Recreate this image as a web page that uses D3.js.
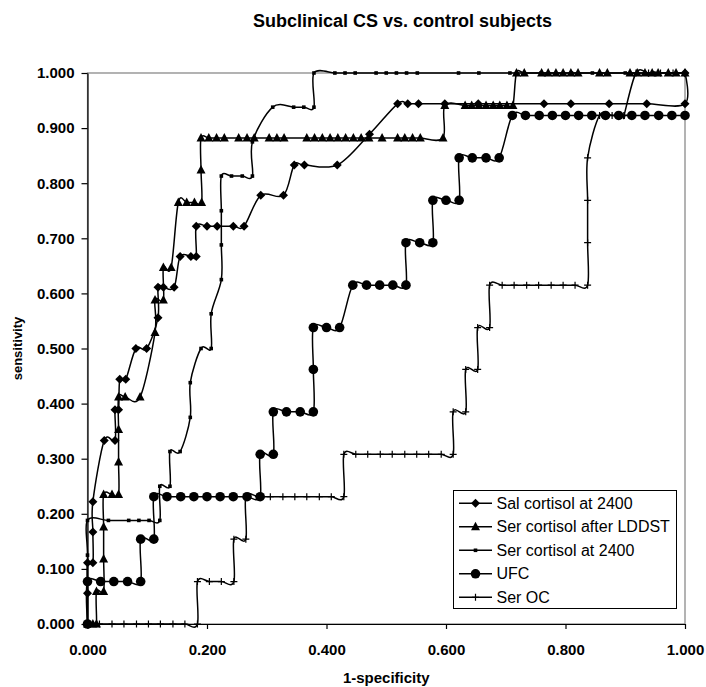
<!DOCTYPE html>
<html lang="en">
<head>
  <meta charset="utf-8">
  <title>Subclinical CS vs. control subjects</title>
  <script src="https://d3js.org/d3.v7.min.js" charset="utf-8"></script>
  <style>
    body { margin: 0; background: #fff; }
    text { font-family: Arial, "Liberation Sans", sans-serif; fill: #000; }
  </style>
</head>
<body>
<script type="text/javascript">

  // ---- data ----
  const seriesNames = ["Sal cortisol at 2400", "Ser cortisol after LDDST", "Ser cortisol at 2400", "UFC", "Ser OC"]
  const xTicks = [0, 0.2, 0.4, 0.6, 0.8, 1.0]
  const yTicks = [0, 0.1, 0.2, 0.3, 0.4, 0.5, 0.6, 0.7, 0.8, 0.9, 1.0]

  const salX = [0, 0, 0, 0.009, 0.009, 0.009, 0.028, 0.046, 0.046, 0.052, 0.054, 0.064, 0.081, 0.099, 0.118, 0.118, 0.127, 0.145, 0.155, 0.173, 0.182, 0.182, 0.200, 0.217, 0.244, 0.262, 0.290, 0.328, 0.346, 0.363, 0.418, 0.472, 0.519, 0.536, 0.554, 0.598, 0.654, 0.764, 0.809, 0.873, 0.936, 1.000, 1.000]
  const salY = [0, 0.056, 0.111, 0.111, 0.167, 0.222, 0.333, 0.333, 0.389, 0.389, 0.444, 0.444, 0.500, 0.500, 0.556, 0.611, 0.611, 0.611, 0.667, 0.667, 0.667, 0.722, 0.722, 0.722, 0.722, 0.722, 0.778, 0.778, 0.833, 0.833, 0.833, 0.889, 0.944, 0.944, 0.944, 0.944, 0.944, 0.944, 0.944, 0.944, 0.944, 0.944, 1.000]

  const lddstX = [0, 0.009, 0.015, 0.015, 0.027, 0.027, 0.027, 0.027, 0.041, 0.052, 0.052, 0.052, 0.052, 0.063, 0.088, 0.113, 0.113, 0.127, 0.127, 0.140, 0.152, 0.166, 0.179, 0.191,
    0.190, 0.190, 0.203, 0.216, 0.229, 0.253, 0.267, 0.279, 0.304, 0.317, 0.329, 0.367, 0.380, 0.393, 0.406, 0.419, 0.432, 0.445, 0.458, 0.471, 0.493, 0.519, 0.531, 0.544, 0.557, 0.595,
    0.598, 0.632, 0.643, 0.655, 0.667, 0.679, 0.690, 0.702, 0.712,
    0.718, 0.731, 0.760, 0.771, 0.784, 0.796, 0.809, 0.821, 0.857, 0.870, 0.908, 0.920, 0.933, 0.945, 0.955, 0.972, 0.985, 1.000]
  const lddstY = [0, 0, 0, 0.059, 0.059, 0.118, 0.176, 0.235, 0.235, 0.235, 0.294, 0.353, 0.412, 0.412, 0.412, 0.529, 0.588, 0.588, 0.647, 0.647, 0.765, 0.765, 0.765, 0.765,
    0.824, 0.882, 0.882, 0.882, 0.882, 0.882, 0.882, 0.882, 0.882, 0.882, 0.882, 0.882, 0.882, 0.882, 0.882, 0.882, 0.882, 0.882, 0.882, 0.882, 0.882, 0.882, 0.882, 0.882, 0.882, 0.882,
    0.941, 0.941, 0.941, 0.941, 0.941, 0.941, 0.941, 0.941, 0.941,
    1.000, 1.000, 1.000, 1.000, 1.000, 1.000, 1.000, 1.000, 1.000, 1.000, 1.000, 1.000, 1.000, 1.000, 1.000, 1.000, 1.000, 1.000]

  const serX = [0, 0, 0, 0.035, 0.069, 0.086, 0.103, 0.121, 0.121, 0.138, 0.138, 0.155, 0.172, 0.172, 0.190, 0.207, 0.207, 0.224, 0.224, 0.224, 0.224, 0.241, 0.259, 0.276, 0.276,
    0.310, 0.345, 0.362, 0.379, 0.379, 0.414, 0.431, 0.448, 0.483, 0.500, 0.517, 0.534, 0.552, 0.621, 0.655, 0.707, 0.759, 0.810, 0.845, 0.900, 0.948, 1.000]
  const serY = [0, 0.125, 0.188, 0.188, 0.188, 0.188, 0.188, 0.188, 0.250, 0.250, 0.313, 0.313, 0.375, 0.438, 0.500, 0.500, 0.563, 0.625, 0.688, 0.750, 0.813, 0.813, 0.813, 0.813, 0.875,
    0.938, 0.938, 0.938, 0.938, 1.000, 1.000, 1.000, 1.000, 1.000, 1.000, 1.000, 1.000, 1.000, 1.000, 1.000, 1.000, 1.000, 1.000, 1.000, 1.000, 1.000, 1.000]

  const ufcX = [0, 0, 0.022, 0.044, 0.067, 0.089, 0.089, 0.111, 0.111, 0.133, 0.156, 0.178, 0.200, 0.222, 0.244, 0.267, 0.289, 0.289, 0.311, 0.311, 0.333, 0.356, 0.378, 0.378,
    0.378, 0.400, 0.422, 0.444, 0.467, 0.489, 0.511, 0.533, 0.533, 0.556, 0.578, 0.578, 0.600, 0.622, 0.622, 0.644, 0.667, 0.689,
    0.711, 0.733, 0.756, 0.778, 0.800, 0.822, 0.844, 0.867, 0.889, 0.911, 0.933, 0.956, 0.978, 1.000]
  const ufcY = [0, 0.077, 0.077, 0.077, 0.077, 0.077, 0.154, 0.154, 0.231, 0.231, 0.231, 0.231, 0.231, 0.231, 0.231, 0.231, 0.231, 0.308, 0.308, 0.385, 0.385, 0.385, 0.385, 0.462,
    0.538, 0.538, 0.538, 0.615, 0.615, 0.615, 0.615, 0.615, 0.692, 0.692, 0.692, 0.769, 0.769, 0.769, 0.846, 0.846, 0.846, 0.846,
    0.923, 0.923, 0.923, 0.923, 0.923, 0.923, 0.923, 0.923, 0.923, 0.923, 0.923, 0.923, 0.923, 0.923]

  const ocX = [0, 0.020, 0.041, 0.061, 0.082, 0.102, 0.122, 0.143, 0.163, 0.184, 0.184, 0.204, 0.224, 0.245, 0.245, 0.265,
    0.265, 0.286, 0.306, 0.327, 0.347, 0.367, 0.388, 0.408, 0.429, 0.429, 0.449, 0.469, 0.490, 0.510, 0.531, 0.551, 0.571, 0.592, 0.612,
    0.612, 0.633, 0.633, 0.653, 0.653, 0.673, 0.673, 0.694, 0.714, 0.735, 0.755, 0.776, 0.796, 0.816, 0.837,
    0.837, 0.837, 0.837, 0.857, 0.878, 0.898, 0.898, 0.918, 0.939, 0.959, 0.980, 1.000]
  const ocY = [0, 0, 0, 0, 0, 0, 0, 0, 0, 0, 0.077, 0.077, 0.077, 0.077, 0.154, 0.154,
    0.231, 0.231, 0.231, 0.231, 0.231, 0.231, 0.231, 0.231, 0.231, 0.308, 0.308, 0.308, 0.308, 0.308, 0.308, 0.308, 0.308, 0.308, 0.308,
    0.385, 0.385, 0.462, 0.462, 0.538, 0.538, 0.615, 0.615, 0.615, 0.615, 0.615, 0.615, 0.615, 0.615, 0.615,
    0.692, 0.769, 0.846, 0.923, 0.923, 0.923, 0.923, 1.000, 1.000, 1.000, 1.000, 1.000]

  const seriesX = [salX, lddstX, serX, ufcX, ocX]
  const seriesY = [salY, lddstY, serY, ufcY, ocY]

  // ---- layout ----
  const W = 706, H = 687
  const plot = { left: 87.5, right: 685, top: 73, bottom: 624 }

  const x = d3.scaleLinear().domain([0, 1]).range([plot.left, plot.right])
  const y = d3.scaleLinear().domain([0, 1]).range([plot.bottom, plot.top])

  const svg = d3.select("body").append("svg")
    .attr("width", W)
    .attr("height", H)

  svg.append("rect").attr("width", W).attr("height", H).attr("fill", "#fff")

  // plot area border (grey in Excel)
  svg.append("rect")
    .attr("x", plot.left).attr("y", plot.top)
    .attr("width", plot.right - plot.left).attr("height", plot.bottom - plot.top)
    .attr("fill", "none").attr("stroke", "#808080").attr("stroke-width", 1.2)

  // axes
  const fmt = d3.format(".3f")
  const yAxis = svg.append("g")
    .attr("transform", `translate(${plot.left},0)`)
    .call(d3.axisLeft(y).tickValues(yTicks).tickFormat(fmt).tickSize(6).tickSizeOuter(0).tickPadding(7))
  const xAxis = svg.append("g")
    .attr("transform", `translate(0,${plot.bottom})`)
    .call(d3.axisBottom(x).tickValues(xTicks).tickFormat(fmt).tickSize(5).tickSizeOuter(0).tickPadding(15))

  for (const g of [xAxis, yAxis]) {
    g.select(".domain").attr("stroke", "#000").attr("stroke-width", 1.2)
    g.selectAll(".tick line").attr("stroke", "#000").attr("stroke-width", 1.2)
    g.selectAll(".tick text")
      .attr("font-family", "Arial, 'Liberation Sans', sans-serif")
      .attr("font-size", 15).attr("font-weight", "bold").attr("fill", "#000")
  }

  // titles
  svg.append("text")
    .attr("x", 402.5).attr("y", 26.5)
    .attr("text-anchor", "middle")
    .attr("font-size", 18).attr("font-weight", "bold")
    .text("Subclinical CS vs. control subjects")

  svg.append("text")
    .attr("x", (plot.left + plot.right) / 2).attr("y", 683)
    .attr("text-anchor", "middle")
    .attr("font-size", 15).attr("font-weight", "bold")
    .text("1-specificity")

  svg.append("text")
    .attr("transform", `translate(22,${(plot.top + plot.bottom) / 2}) rotate(-90)`)
    .attr("text-anchor", "middle")
    .attr("font-size", 13).attr("font-weight", "bold")
    .text("sensitivity")

  // markers
  function drawMarker(sel, kind) {
    if (kind === "diamond") {
      sel.append("path").attr("d", "M0,-4.5L4.5,0L0,4.5L-4.5,0Z").attr("fill", "#000")
    } else if (kind === "triangle") {
      sel.append("path").attr("d", "M0,-5L4.5,3.5L-4.5,3.5Z").attr("fill", "#000")
    } else if (kind === "square") {
      sel.append("rect").attr("x", -1.8).attr("y", -1.8).attr("width", 3.6).attr("height", 3.6).attr("fill", "#000")
    } else if (kind === "circle") {
      sel.append("circle").attr("r", 4.8).attr("fill", "#000")
    } else if (kind === "plus") {
      sel.append("path").attr("d", "M-3.5,0H3.5M0,-3.5V3.5").attr("stroke", "#000").attr("stroke-width", 1.2)
    }
  }
  const markerKinds = ["diamond", "triangle", "square", "circle", "plus"]

  const line = d3.line()
    .x(d => x(d[0]))
    .y(d => y(d[1]))
    .curve(d3.curveCardinal.tension(0))

  seriesNames.forEach((name, i) => {
    const pts = seriesX[i].map((v, j) => [v, seriesY[i][j]])
    const g = svg.append("g")
    g.append("path")
      .attr("d", line(pts))
      .attr("fill", "none")
      .attr("stroke", "#000")
      .attr("stroke-width", 1.5)
    g.selectAll("g.m")
      .data(pts)
      .join("g")
      .attr("class", "m")
      .attr("transform", d => `translate(${x(d[0])},${y(d[1])})`)
      .each(function () { drawMarker(d3.select(this), markerKinds[i]) })
  })

  // legend
  const legend = svg.append("g")
  legend.append("rect")
    .attr("x", 453.5).attr("y", 490.5)
    .attr("width", 223).attr("height", 118)
    .attr("fill", "#fff").attr("stroke", "#000").attr("stroke-width", 1)

  seriesNames.forEach((name, i) => {
    const ly = 503.3 + i * 23.5
    const row = legend.append("g").attr("transform", `translate(0,${ly})`)
    row.append("line")
      .attr("x1", 459).attr("x2", 492).attr("y1", 0).attr("y2", 0)
      .attr("stroke", "#000").attr("stroke-width", 1.5)
    drawMarker(row.append("g").attr("transform", "translate(475.5,0)"), markerKinds[i])
    row.append("text")
      .attr("x", 496.5).attr("y", 0).attr("dy", "0.35em")
      .attr("font-size", 16)
      .text(name)
  })

</script>
</body>
</html>
